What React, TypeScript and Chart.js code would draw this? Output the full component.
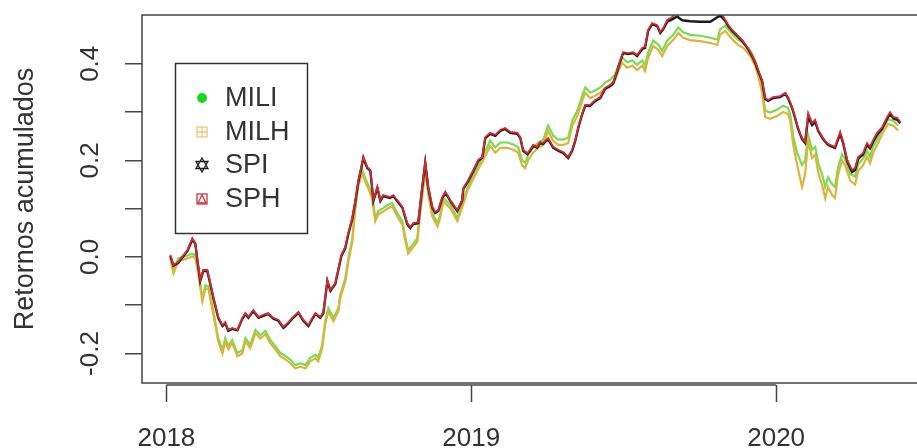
import React, { useEffect, useRef } from "react";
import { Chart, registerables } from "chart.js";

Chart.register(...registerables);

const FONT = "'Liberation Sans', Arial, Helvetica, sans-serif";
const TEXT = "#333333";

const seriesNames = ["MILI", "MILH", "SPI", "SPH"];
const lineColors = ["#78DC50", "#DCB43C", "#1A1A1A", "#D42A30"];
const symbolColors = ["#19D919", "#F2C27A", "#1A1A1A", "#D8303E"];

const xTickValues = [2018, 2019, 2020];
const xTickLabels = ["2018", "2019", "2020"];
const yTickValues = [-0.2, -0.1, 0, 0.1, 0.2, 0.3, 0.4];
const yLabelValues = [-0.2, 0, 0.2, 0.4];
const yLabelTexts = ["-0.2", "0.0", "0.2", "0.4"];
const yTitle = "Retornos acumulados";

const spDates = [
  2018.013, 2018.023, 2018.039, 2018.056, 2018.069, 2018.085, 2018.095, 2018.102, 2018.111, 2018.121,
  2018.134, 2018.144, 2018.154, 2018.170, 2018.184, 2018.193, 2018.203, 2018.216, 2018.233, 2018.249,
  2018.259, 2018.269, 2018.285, 2018.302, 2018.318, 2018.334, 2018.351, 2018.367, 2018.384, 2018.400,
  2018.416, 2018.433, 2018.449, 2018.466, 2018.479, 2018.489, 2018.505, 2018.515, 2018.528, 2018.538,
  2018.554, 2018.574, 2018.587, 2018.597, 2018.610, 2018.620, 2018.630, 2018.643, 2018.646, 2018.659,
  2018.669, 2018.679, 2018.692, 2018.702, 2018.711, 2018.734, 2018.744, 2018.757, 2018.774, 2018.790,
  2018.800, 2018.810, 2018.826, 2018.839, 2018.849, 2018.859, 2018.872, 2018.882, 2018.892, 2018.905,
  2018.915, 2018.931, 2018.954, 2018.970, 2018.974, 2018.990, 2019.007, 2019.023, 2019.036, 2019.046,
  2019.062, 2019.079, 2019.095, 2019.111, 2019.128, 2019.151, 2019.161, 2019.170, 2019.184, 2019.193,
  2019.203, 2019.216, 2019.226, 2019.236, 2019.252, 2019.269, 2019.285, 2019.302, 2019.318, 2019.331,
  2019.341, 2019.351, 2019.364, 2019.374, 2019.390, 2019.407, 2019.423, 2019.439, 2019.456, 2019.466,
  2019.479, 2019.489, 2019.498, 2019.515, 2019.531, 2019.544, 2019.561, 2019.570, 2019.580, 2019.593,
  2019.610, 2019.620, 2019.630, 2019.643, 2019.659, 2019.675, 2019.692, 2019.718, 2019.751, 2019.784,
  2019.816, 2019.833, 2019.843, 2019.856, 2019.872, 2019.889, 2019.905, 2019.921, 2019.931, 2019.941,
  2019.954, 2019.964, 2019.974, 2019.990, 2020.013, 2020.030, 2020.039, 2020.052, 2020.062, 2020.072,
  2020.085, 2020.095, 2020.105, 2020.118, 2020.128, 2020.138, 2020.154, 2020.167, 2020.177, 2020.193,
  2020.210, 2020.220, 2020.233, 2020.249, 2020.259, 2020.269, 2020.285, 2020.298, 2020.308, 2020.318,
  2020.331, 2020.348, 2020.364, 2020.374, 2020.384, 2020.397, 2020.407,
];

const sphValues = [
  0.004, -0.017, -0.010, 0.004, 0.014, 0.039, 0.029, -0.006, -0.048, -0.027,
  -0.027, -0.054, -0.083, -0.124, -0.141, -0.135, -0.151, -0.147, -0.151, -0.126,
  -0.116, -0.124, -0.110, -0.124, -0.120, -0.116, -0.126, -0.130, -0.145, -0.135,
  -0.124, -0.114, -0.130, -0.141, -0.126, -0.116, -0.124, -0.114, -0.048, -0.068,
  -0.054, 0.004, 0.021, 0.050, 0.081, 0.118, 0.159, 0.197, 0.207, 0.186,
  0.180, 0.118, 0.145, 0.118, 0.128, 0.124, 0.128, 0.118, 0.104, 0.070,
  0.062, 0.070, 0.072, 0.145, 0.197, 0.145, 0.104, 0.093, 0.097, 0.124,
  0.135, 0.118, 0.097, 0.118, 0.143, 0.159, 0.180, 0.201, 0.207, 0.248,
  0.257, 0.253, 0.263, 0.267, 0.259, 0.257, 0.248, 0.222, 0.215, 0.222,
  0.232, 0.228, 0.238, 0.236, 0.246, 0.228, 0.222, 0.217, 0.207, 0.222,
  0.242, 0.269, 0.298, 0.315, 0.315, 0.325, 0.331, 0.350, 0.356, 0.362,
  0.387, 0.408, 0.424, 0.422, 0.424, 0.418, 0.433, 0.435, 0.470, 0.484,
  0.480, 0.466, 0.474, 0.491, 0.497, 0.508, 0.512, 0.515, 0.518, 0.516,
  0.510, 0.491, 0.480, 0.470, 0.460, 0.449, 0.435, 0.418, 0.404, 0.387,
  0.366, 0.329, 0.325, 0.331, 0.333, 0.340, 0.331, 0.311, 0.290, 0.267,
  0.246, 0.238, 0.298, 0.277, 0.284, 0.263, 0.246, 0.236, 0.232, 0.228,
  0.259, 0.238, 0.201, 0.180, 0.184, 0.207, 0.215, 0.236, 0.228, 0.242,
  0.257, 0.269, 0.290, 0.300, 0.290, 0.288, 0.280,
];

const spiValues = [
  0.002, -0.018, -0.012, 0.002, 0.012, 0.036, 0.027, -0.008, -0.050, -0.029,
  -0.029, -0.056, -0.085, -0.126, -0.143, -0.137, -0.153, -0.149, -0.152, -0.128,
  -0.118, -0.126, -0.112, -0.126, -0.122, -0.118, -0.128, -0.132, -0.147, -0.137,
  -0.126, -0.116, -0.132, -0.143, -0.128, -0.118, -0.126, -0.116, -0.050, -0.070,
  -0.056, 0.002, 0.019, 0.048, 0.079, 0.116, 0.157, 0.195, 0.205, 0.184,
  0.178, 0.116, 0.143, 0.116, 0.126, 0.122, 0.126, 0.116, 0.102, 0.068,
  0.060, 0.068, 0.070, 0.143, 0.195, 0.143, 0.102, 0.091, 0.095, 0.122,
  0.133, 0.116, 0.095, 0.116, 0.141, 0.157, 0.178, 0.199, 0.205, 0.246,
  0.255, 0.251, 0.261, 0.265, 0.257, 0.255, 0.246, 0.220, 0.213, 0.220,
  0.230, 0.226, 0.236, 0.234, 0.244, 0.226, 0.220, 0.215, 0.205, 0.220,
  0.240, 0.267, 0.296, 0.313, 0.313, 0.323, 0.329, 0.348, 0.354, 0.360,
  0.385, 0.406, 0.422, 0.420, 0.422, 0.416, 0.431, 0.433, 0.468, 0.482,
  0.478, 0.464, 0.472, 0.487, 0.492, 0.498, 0.490, 0.488, 0.487, 0.487,
  0.500, 0.489, 0.478, 0.468, 0.458, 0.447, 0.433, 0.416, 0.402, 0.385,
  0.364, 0.327, 0.323, 0.329, 0.331, 0.338, 0.329, 0.309, 0.288, 0.265,
  0.244, 0.236, 0.290, 0.273, 0.280, 0.261, 0.244, 0.234, 0.230, 0.226,
  0.255, 0.235, 0.198, 0.176, 0.180, 0.203, 0.212, 0.232, 0.225, 0.238,
  0.253, 0.266, 0.286, 0.296, 0.287, 0.284, 0.277,
];

const milDates = [
  2018.013,
  2018.023, 2018.039, 2018.069, 2018.085, 2018.095, 2018.105, 2018.118, 2018.128, 2018.138, 2018.154,
  2018.170, 2018.184, 2018.193, 2018.203, 2018.216, 2018.233, 2018.249, 2018.259, 2018.275, 2018.292,
  2018.308, 2018.325, 2018.341, 2018.357, 2018.374, 2018.390, 2018.407, 2018.423, 2018.439, 2018.456,
  2018.472, 2018.489, 2018.498, 2018.511, 2018.521, 2018.531, 2018.548, 2018.564, 2018.570, 2018.587,
  2018.597, 2018.610, 2018.620, 2018.630, 2018.643, 2018.652, 2018.662, 2018.675, 2018.685, 2018.695,
  2018.711, 2018.728, 2018.741, 2018.757, 2018.774, 2018.784, 2018.793, 2018.807, 2018.823, 2018.833,
  2018.849, 2018.859, 2018.872, 2018.889, 2018.898, 2018.908, 2018.931, 2018.954, 2018.970, 2018.987,
  2019.007, 2019.023, 2019.039, 2019.056, 2019.062, 2019.079, 2019.095, 2019.118, 2019.138, 2019.154,
  2019.167, 2019.177, 2019.187, 2019.203, 2019.220, 2019.236, 2019.252, 2019.269, 2019.285, 2019.302,
  2019.318, 2019.331, 2019.348, 2019.364, 2019.374, 2019.390, 2019.407, 2019.423, 2019.439, 2019.456,
  2019.472, 2019.482, 2019.495, 2019.511, 2019.528, 2019.544, 2019.561, 2019.570, 2019.580, 2019.597,
  2019.613, 2019.626, 2019.643, 2019.662, 2019.679, 2019.695, 2019.718, 2019.751, 2019.784, 2019.807,
  2019.816, 2019.833, 2019.843, 2019.859, 2019.875, 2019.892, 2019.915, 2019.931, 2019.941, 2019.954,
  2019.964, 2019.980, 2020.003, 2020.023, 2020.039, 2020.046, 2020.056, 2020.069, 2020.085, 2020.095,
  2020.105, 2020.118, 2020.128, 2020.138, 2020.151, 2020.161, 2020.170, 2020.184, 2020.193, 2020.203,
  2020.216, 2020.226, 2020.243, 2020.259, 2020.269, 2020.285, 2020.298, 2020.308, 2020.318, 2020.334,
  2020.351, 2020.367, 2020.384, 2020.400,
];

const miliValues = [
  0.000,
  -0.028, -0.003, 0.003, 0.007, 0.003, -0.030, -0.085, -0.059, -0.061, -0.112,
  -0.168, -0.193, -0.168, -0.184, -0.172, -0.199, -0.193, -0.168, -0.182, -0.151,
  -0.162, -0.153, -0.172, -0.184, -0.199, -0.205, -0.213, -0.224, -0.220, -0.224,
  -0.209, -0.203, -0.209, -0.182, -0.133, -0.106, -0.126, -0.106, -0.079, -0.044,
  -0.002, 0.039, 0.108, 0.157, 0.180, 0.163, 0.149, 0.128, 0.081, 0.095,
  0.101, 0.108, 0.112, 0.091, 0.074, 0.039, 0.014, 0.025, 0.039, 0.101,
  0.184, 0.137, 0.091, 0.070, 0.087, 0.122, 0.108, 0.081, 0.108, 0.143,
  0.170, 0.190, 0.209, 0.233, 0.241, 0.227, 0.237, 0.237, 0.233, 0.227,
  0.200, 0.195, 0.212, 0.227, 0.237, 0.243, 0.272, 0.251, 0.243, 0.243,
  0.247, 0.282, 0.303, 0.334, 0.351, 0.340, 0.345, 0.351, 0.361, 0.367,
  0.378, 0.396, 0.413, 0.403, 0.407, 0.398, 0.407, 0.396, 0.423, 0.448,
  0.440, 0.427, 0.448, 0.460, 0.475, 0.465, 0.460, 0.458, 0.454, 0.450,
  0.471, 0.479, 0.471, 0.460, 0.450, 0.444, 0.427, 0.407, 0.386, 0.351,
  0.303, 0.299, 0.305, 0.313, 0.309, 0.295, 0.250, 0.215, 0.190, 0.200,
  0.252, 0.222, 0.228, 0.195, 0.170, 0.145, 0.165, 0.150, 0.145, 0.186,
  0.212, 0.203, 0.172, 0.166, 0.192, 0.203, 0.220, 0.207, 0.228, 0.247,
  0.268, 0.285, 0.282, 0.272,
];

const milhValues = [
  -0.004,
  -0.034, -0.009, -0.003, 0.001, -0.003, -0.036, -0.092, -0.065, -0.067, -0.119,
  -0.175, -0.200, -0.175, -0.191, -0.179, -0.206, -0.200, -0.175, -0.189, -0.158,
  -0.169, -0.160, -0.179, -0.191, -0.206, -0.212, -0.220, -0.231, -0.227, -0.231,
  -0.216, -0.210, -0.216, -0.189, -0.140, -0.113, -0.133, -0.113, -0.086, -0.051,
  -0.009, 0.032, 0.101, 0.150, 0.173, 0.156, 0.142, 0.121, 0.074, 0.088,
  0.094, 0.101, 0.105, 0.084, 0.067, 0.032, 0.007, 0.018, 0.032, 0.094,
  0.177, 0.130, 0.084, 0.063, 0.080, 0.115, 0.101, 0.074, 0.101, 0.136,
  0.162, 0.182, 0.200, 0.222, 0.230, 0.216, 0.226, 0.226, 0.222, 0.216,
  0.189, 0.184, 0.201, 0.216, 0.226, 0.232, 0.261, 0.240, 0.232, 0.232,
  0.236, 0.271, 0.292, 0.323, 0.340, 0.329, 0.334, 0.340, 0.350, 0.356,
  0.367, 0.385, 0.402, 0.392, 0.396, 0.387, 0.396, 0.385, 0.412, 0.437,
  0.429, 0.416, 0.437, 0.449, 0.464, 0.454, 0.449, 0.447, 0.443, 0.439,
  0.460, 0.468, 0.460, 0.449, 0.439, 0.433, 0.416, 0.396, 0.375, 0.340,
  0.290, 0.286, 0.292, 0.300, 0.296, 0.282, 0.232, 0.190, 0.145, 0.172,
  0.240, 0.205, 0.212, 0.175, 0.148, 0.122, 0.145, 0.128, 0.122, 0.170,
  0.200, 0.190, 0.158, 0.150, 0.178, 0.190, 0.208, 0.194, 0.215, 0.236,
  0.258, 0.275, 0.272, 0.262,
];

const X_MIN = 2017.92;
const X_MAX = 2020.462;
const Y_MIN = -0.261;
const Y_MAX = 0.501;

function toPoints(xs: number[], ys: number[]) {
  const n = Math.min(xs.length, ys.length);
  const out: { x: number; y: number }[] = [];
  for (let i = 0; i < n; i++) out.push({ x: xs[i], y: ys[i] });
  return out;
}

function drawSymbol(ctx: CanvasRenderingContext2D, idx: number, cx: number, cy: number) {
  const c = symbolColors[idx];
  ctx.save();
  ctx.strokeStyle = c;
  ctx.fillStyle = c;
  ctx.lineWidth = 1.3;
  if (idx === 0) {
    ctx.beginPath();
    ctx.arc(cx, cy, 5, 0, Math.PI * 2);
    ctx.fill();
  } else if (idx === 1) {
    ctx.strokeRect(cx - 5, cy - 5, 10, 10);
    ctx.beginPath();
    ctx.moveTo(cx, cy - 5);
    ctx.lineTo(cx, cy + 5);
    ctx.moveTo(cx - 5, cy);
    ctx.lineTo(cx + 5, cy);
    ctx.stroke();
  } else if (idx === 2) {
    ctx.beginPath();
    ctx.moveTo(cx, cy - 7);
    ctx.lineTo(cx - 6, cy + 3.5);
    ctx.lineTo(cx + 6, cy + 3.5);
    ctx.closePath();
    ctx.moveTo(cx, cy + 7);
    ctx.lineTo(cx - 6, cy - 3.5);
    ctx.lineTo(cx + 6, cy - 3.5);
    ctx.closePath();
    ctx.stroke();
  } else {
    ctx.strokeRect(cx - 5, cy - 5, 10, 10);
    ctx.beginPath();
    ctx.moveTo(cx, cy - 4);
    ctx.lineTo(cx - 4, cy + 4);
    ctx.lineTo(cx + 4, cy + 4);
    ctx.closePath();
    ctx.stroke();
  }
  ctx.restore();
}

const decorPlugin = {
  id: "rDecor",
  afterDraw(chart: any) {
    const ctx: CanvasRenderingContext2D = chart.ctx;
    const { left, right, top, bottom } = chart.chartArea;
    const xs = chart.scales.x;
    const ys = chart.scales.y;
    ctx.save();
    // plot box
    ctx.strokeStyle = "#444";
    ctx.lineWidth = 1.5;
    ctx.beginPath();
    ctx.moveTo(right, top);
    ctx.lineTo(left, top);
    ctx.lineTo(left, bottom);
    ctx.lineTo(right, bottom);
    ctx.stroke();
    // x axis line between first and last tick, plus tick marks
    const x0 = xs.getPixelForValue(xTickValues[0]);
    const x1 = xs.getPixelForValue(xTickValues[xTickValues.length - 1]);
    ctx.beginPath();
    ctx.moveTo(x0, bottom + 2);
    ctx.lineTo(x1, bottom + 2);
    xTickValues.forEach((v) => {
      const px = Math.round(xs.getPixelForValue(v)) + 0.5;
      ctx.moveTo(px, bottom + 2);
      ctx.lineTo(px, bottom + 19);
    });
    ctx.stroke();

    // y tick labels rotated
    ctx.fillStyle = TEXT;
    ctx.font = `26px ${FONT}`;
    ctx.textAlign = "center";
    ctx.textBaseline = "middle";
    yLabelValues.forEach((v, i) => {
      const py = ys.getPixelForValue(v);
      ctx.save();
      ctx.translate(91, py);
      ctx.rotate(-Math.PI / 2);
      ctx.fillText(yLabelTexts[i], 0, 0);
      ctx.restore();
    });
    // y title
    ctx.save();
    ctx.font = `27px ${FONT}`;
    ctx.translate(26, (top + bottom) / 2);
    ctx.rotate(-Math.PI / 2);
    ctx.fillText(yTitle, 0, 0);
    ctx.restore();

    // legend
    const bx = 175, by = 63, bw = 132, bh = 170;
    ctx.fillStyle = "#ffffff";
    ctx.fillRect(bx, by, bw, bh);
    ctx.strokeStyle = "#333";
    ctx.lineWidth = 1.5;
    ctx.strokeRect(bx + 0.5, by + 0.5, bw, bh);
    const rows = [98, 132, 165, 199];
    ctx.font = `27px ${FONT}`;
    ctx.textAlign = "left";
    ctx.textBaseline = "middle";
    seriesNames.forEach((name, i) => {
      drawSymbol(ctx, i, 202, rows[i]);
      ctx.fillStyle = TEXT;
      ctx.fillText(name, 225, rows[i] + 1);
    });
    ctx.restore();
  },
};

export default function App() {
  const canvasRef = useRef<HTMLCanvasElement | null>(null);

  useEffect(() => {
    const canvas = canvasRef.current;
    if (!canvas) return;
    const mk = (label: string, xs: number[], ys: number[], color: string, width: number, order: number) => ({
      label,
      data: toPoints(xs, ys),
      borderColor: color,
      backgroundColor: color,
      borderWidth: width,
      pointRadius: 0,
      tension: 0,
      fill: false,
      order,
    });
    const chart = new Chart(canvas, {
      type: "line",
      data: {
        datasets: [
          mk(seriesNames[0], milDates, miliValues, lineColors[0], 2.2, 3),
          mk(seriesNames[1], milDates, milhValues, lineColors[1], 2.2, 2),
          mk(seriesNames[2], spDates, spiValues, lineColors[2], 2.4, 1),
          mk(seriesNames[3], spDates, sphValues, lineColors[3], 1.8, 0),
        ],
      },
      options: {
        animation: false,
        responsive: false,
        devicePixelRatio: 1,
        layout: { padding: { top: 15, left: 0, right: 0, bottom: 0 } },
        plugins: { legend: { display: false }, tooltip: { enabled: false } },
        scales: {
          x: {
            type: "linear",
            min: X_MIN,
            max: X_MAX,
            afterBuildTicks: (s: any) => {
              s.ticks = xTickValues.map((v) => ({ value: v }));
            },
            afterFit: (s: any) => {
              s.height = 65;
            },
            grid: { drawOnChartArea: false, drawTicks: true, tickLength: 17, color: "rgba(0,0,0,0)" },
            border: { display: false },
            ticks: {
              autoSkip: false,
              maxRotation: 0,
              minRotation: 0,
              padding: 23,
              color: TEXT,
              font: { family: FONT, size: 26 },
              callback: (v: any) => {
                const i = xTickValues.indexOf(Number(v));
                return i >= 0 ? xTickLabels[i] : "";
              },
            },
          },
          y: {
            type: "linear",
            min: Y_MIN,
            max: Y_MAX,
            afterBuildTicks: (s: any) => {
              s.ticks = yTickValues.map((v) => ({ value: v }));
            },
            afterFit: (s: any) => {
              s.width = 142;
            },
            grid: { drawOnChartArea: false, drawTicks: true, tickLength: 17, color: "#444", lineWidth: 1.5 },
            border: { display: false },
            ticks: { display: false },
          },
        },
      },
      plugins: [decorPlugin],
    } as any);
    return () => chart.destroy();
  }, []);

  return (
    <div style={{ position: "absolute", left: 0, top: 0, width: 917, height: 448, background: "#fff", overflow: "hidden" }}>
      <canvas ref={canvasRef} width={917} height={448} style={{ display: "block" }} />
    </div>
  );
}
